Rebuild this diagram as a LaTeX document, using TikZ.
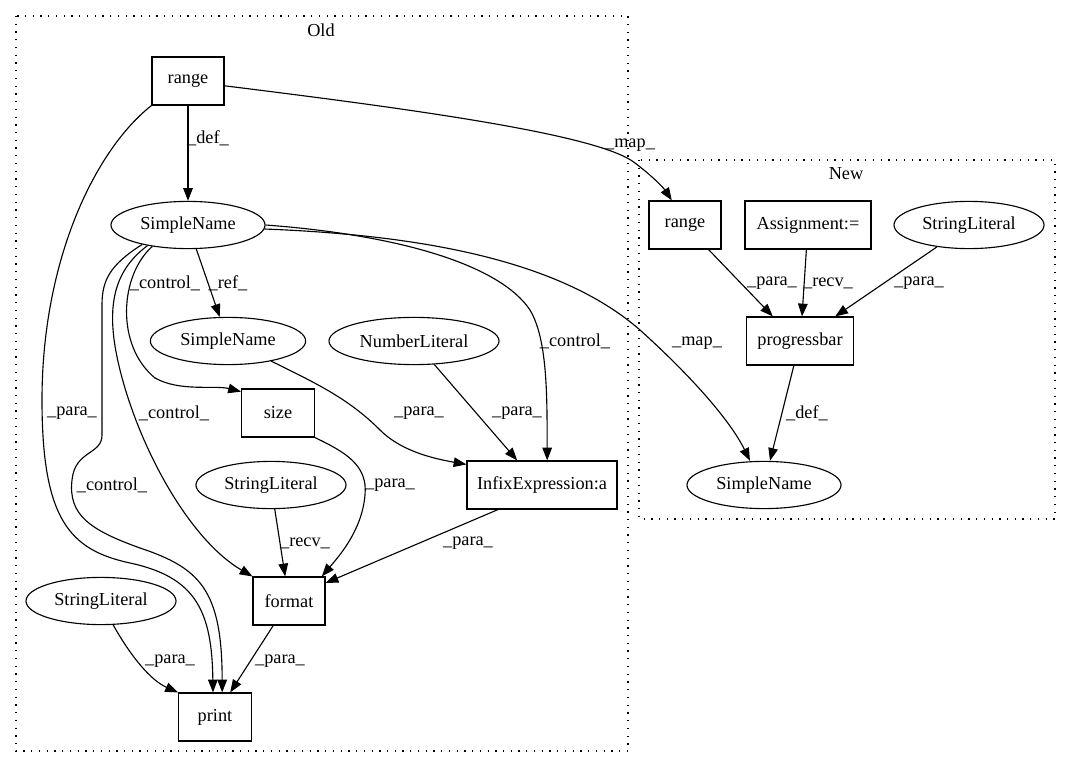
\documentclass[tikz,border=0pt]{standalone}
\usepackage{fontspec}
\setmainfont{Liberation Serif}
\usetikzlibrary{shapes.geometric,arrows.meta}

\begin{document}
\begin{tikzpicture}[x=0.025cm,y=-0.025cm,->,>={Stealth[inset=0pt,length=0.32cm,width=0.24cm]},thick,
    box node/.style={draw,rectangle,minimum height=1.2cm,inner sep=0pt,font=\fontsize{13}{15}\selectfont},
    oval node/.style={draw,ellipse,minimum height=1.18cm,inner sep=0pt,font=\fontsize{13}{15}\selectfont},
    lbl/.style={inner sep=0pt,font=\fontsize{13}{15}\selectfont},
    cluster/.style={draw,-,dash pattern=on 0.9pt off 4.6pt}]
                    \useasboundingbox (0,0) rectangle (1071,768);

                    % clusters
                    \draw[cluster] (16,16) rectangle (628,751);
                    \draw[cluster] (639,160) rectangle (1055,519);
                    \node[lbl] (old) at (321,30) {Old};
                    \node[lbl] (new) at (846,174) {New};

                    % old
                    \node[box node, minimum width=1.8cm] (1) at (188,81) {range};
                    \node[oval node, minimum width=3.85cm] (2) at (188,225) {SimpleName};
                    \node[oval node, minimum width=3.88cm] (3) at (228,341) {SimpleName};
                    \node[oval node, minimum width=4.25cm] (4) at (414,341) {NumberLiteral};
                    \node[box node, minimum width=1.82cm] (5) at (278,413) {size};
                    \node[oval node, minimum width=3.75cm] (6) at (271,485) {StringLiteral};
                    \node[box node, minimum width=3.75cm] (7) at (542,485) {InfixExpression:a};
                    \node[box node, minimum width=1.8cm] (8) at (289,601) {format};
                    \node[oval node, minimum width=3.75cm] (9) at (101,601) {StringLiteral};
                    \node[box node, minimum width=1.82cm] (10) at (215,717) {print};

                    % new
                    \node[box node, minimum width=1.8cm] (a) at (685,225) {range};
                    \node[box node, minimum width=3.15cm] (b) at (808,225) {Assignment:=};
                    \node[oval node, minimum width=3.75cm] (c) at (969,225) {StringLiteral};
                    \node[box node, minimum width=2.68cm] (d) at (800,341) {progressbar};
                    \node[oval node, minimum width=3.85cm] (e) at (764,485) {SimpleName};

                    \draw (1) -- (2) node[lbl] at (208,138) {\_def\_};
                    \draw (1.south west) .. controls (95,150) and (42,260) .. (42,400)
                        .. controls (42,520) and (70,550) .. (130,563)
                        .. controls (195,577) and (212,610) .. ([xshift=-0.05cm]10.north)
                        node[lbl] at (72,413) {\_para\_};
                    \draw ([yshift=-0.12cm]1.east) .. controls (420,110) and (600,135) .. (635,163)
                        .. controls (655,178) and (665,190) .. ([xshift=-0.33cm]a.north)
                        node[lbl] at (630,145) {\_map\_};
                    \draw (2.203) .. controls (110,265) and (102,280) .. (102,305) -- (102,435)
                        .. controls (102,455) and (75,450) .. (72,480)
                        .. controls (68,515) and (90,530) .. (140,548)
                        .. controls (200,568) and (222,590) .. ([xshift=0.18cm]10.north)
                        node[lbl] at (112,485) {\_control\_};
                    \draw (2.207) .. controls (112,272) and (105,310) .. (120,370)
                        .. controls (140,450) and (190,540) .. (8.north west)
                        node[lbl] at (174,413) {\_control\_};
                    \draw (2.211) .. controls (120,275) and (115,345) .. (155,378)
                        .. controls (180,392) and (215,385) .. ([yshift=-0.08cm]5.north west)
                        node[lbl] at (165,283) {\_control\_};
                    \draw (2) -- (3) node[lbl] at (228,283) {\_ref\_};
                    \draw (2.east) .. controls (400,235) and (500,265) .. (530,310)
                        .. controls (548,340) and (547,400) .. ([xshift=0.13cm]7.north)
                        node[lbl] at (575,341) {\_control\_};
                    \draw (2.357) .. controls (420,235) and (560,260) .. (640,330)
                        .. controls (690,375) and (730,420) .. ([xshift=-0.35cm]e.north)
                        node[lbl] at (697,343) {\_map\_};
                    \draw (3.-25) .. controls (320,385) and (350,400) .. (380,430)
                        .. controls (400,450) and (430,458) .. ([yshift=-0.1cm]7.north west)
                        node[lbl] at (419,413) {\_para\_};
                    \draw (4) -- ([xshift=-0.62cm]7.north) node[lbl] at (517,413) {\_para\_};
                    \draw (5.south east) .. controls (345,452) and (368,465) .. (365,495)
                        .. controls (362,530) and (340,555) .. ([xshift=0.82cm]8.north)
                        node[lbl] at (390,485) {\_para\_};
                    \draw (6) -- (8) node[lbl] at (305,543) {\_recv\_};
                    \draw ([xshift=-1.1cm]7.south) -- ([yshift=0.45cm]8.east) node[lbl] at (468,543) {\_para\_};
                    \draw (9.-63) .. controls (130,655) and (150,680) .. (10.north west)
                        node[lbl] at (170,661) {\_para\_};
                    \draw (8) -- ([xshift=0.38cm]10.north) node[lbl] at (280,661) {\_para\_};

                    \draw (a) -- ([xshift=-0.68cm]d.north) node[lbl] at (772,283) {\_para\_};
                    \draw (b) -- ([xshift=0.05cm]d.north) node[lbl] at (828,283) {\_recv\_};
                    \draw (c) -- ([xshift=0.88cm]d.north) node[lbl] at (919,283) {\_para\_};
                    \draw (d) -- ([xshift=0.15cm]e.north) node[lbl] at (807,413) {\_def\_};
                \end{tikzpicture}
\end{document}
